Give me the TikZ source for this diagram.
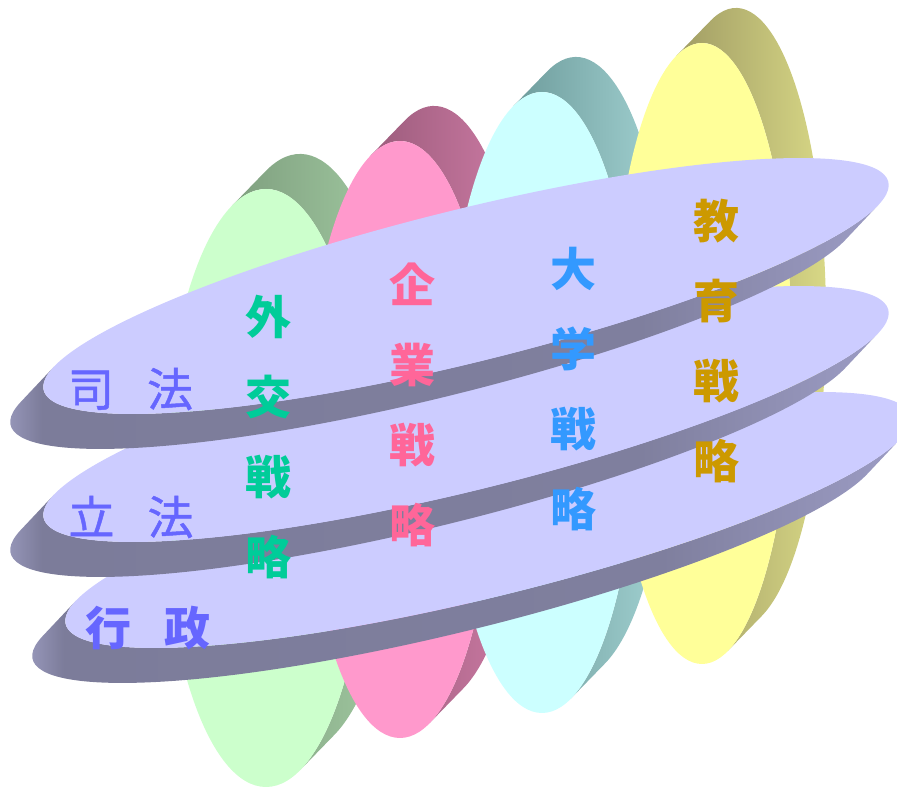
\documentclass[tikz,border=0pt]{standalone}
\usepackage{fontspec}
\newfontfamily\jpfont{Noto Sans CJK JP}
\newfontfamily\jpmid[FakeBold=1]{Noto Sans CJK JP}
\definecolor{lavTop}{HTML}{CCCCFF}
\definecolor{lavLight}{HTML}{B4B4DC}
\definecolor{lavDark}{HTML}{7C7C9A}
\definecolor{lavRight}{HTML}{9C9CC4}
\definecolor{greenFront}{HTML}{CCFFCC}
\definecolor{greenDark}{HTML}{7F9F7F}
\definecolor{greenSide}{HTML}{A6D0A6}
\definecolor{pinkFront}{HTML}{FF99CC}
\definecolor{pinkDark}{HTML}{9C5C7C}
\definecolor{pinkSide}{HTML}{D47FAA}
\definecolor{cyanFront}{HTML}{CCFFFF}
\definecolor{cyanDark}{HTML}{6E9C9C}
\definecolor{cyanSide}{HTML}{A8D8D8}
\definecolor{yellowFront}{HTML}{FFFF99}
\definecolor{yellowDark}{HTML}{A09C64}
\definecolor{yellowSide}{HTML}{DCDC88}
\definecolor{powerBlue}{HTML}{6666FF}
\definecolor{gaikoGreen}{HTML}{00CC99}
\definecolor{kigyoPink}{HTML}{FF6699}
\definecolor{daigakuBlue}{HTML}{3399FF}
\definecolor{kyoikuGold}{HTML}{CC9900}
\pgfdeclarehorizontalshading{lavside}{100bp}{color(0bp)=(lavLight); color(25bp)=(lavLight); color(29bp)=(lavDark); color(62bp)=(lavDark!90!lavRight); color(75bp)=(lavRight); color(100bp)=(lavRight)}
\begin{document}
\begin{tikzpicture}[x=1pt, y=1pt,
    power/.style={font=\jpmid\fontsize{46}{55}\selectfont, text=powerBlue, inner sep=0pt},
    branch/.style={font=\jpfont\bfseries\fontsize{46}{80}\selectfont, align=center, inner sep=0pt},
    plate/.style={shading=lavside}]
    \useasboundingbox (0,0) rectangle (897,787);
    \clip (0,0) rectangle (897,787);
    % Upright disks, back to front
    \begin{scope}[shift={(266,299)}]
        \shade[left color=greenDark, middle color=greenSide, right color=greenSide] (109.53:103 and 299) -- ++(34,35)
            arc[start angle=109.53, end angle=-70.47, x radius=103, y radius=299] -- ++(-34,-35)
            arc[start angle=-70.47, end angle=109.53, x radius=103, y radius=299] -- cycle;
        \fill[greenFront] (0,0) ellipse [x radius=103, y radius=299];
    \end{scope}
    \begin{scope}[shift={(400,347.5)}]
        \shade[left color=pinkDark, middle color=pinkSide, right color=pinkSide] (108.14:95 and 298.5) -- ++(34,35)
            arc[start angle=108.14, end angle=-71.86, x radius=95, y radius=298.5] -- ++(-34,-35)
            arc[start angle=-71.86, end angle=108.14, x radius=95, y radius=298.5] -- cycle;
        \fill[pinkFront] (0,0) ellipse [x radius=95, y radius=298.5];
    \end{scope}
    \begin{scope}[shift={(542,384.5)}]
        \shade[left color=cyanDark, middle color=cyanSide, right color=cyanSide] (107.65:96 and 310.5) -- ++(34,35)
            arc[start angle=107.65, end angle=-72.35, x radius=96, y radius=310.5] -- ++(-34,-35)
            arc[start angle=-72.35, end angle=107.65, x radius=96, y radius=310.5] -- cycle;
        \fill[cyanFront] (0,0) ellipse [x radius=96, y radius=310.5];
    \end{scope}
    \begin{scope}[shift={(702,433.5)}]
        \shade[left color=yellowDark, middle color=yellowSide, right color=yellowSide] (106.62:90 and 310.5) -- ++(34,35)
            arc[start angle=106.62, end angle=-73.38, x radius=90, y radius=310.5] -- ++(-34,-35)
            arc[start angle=-73.38, end angle=106.62, x radius=90, y radius=310.5] -- cycle;
        \fill[yellowFront] (0,0) ellipse [x radius=90, y radius=310.5];
    \end{scope}
    % Flat plates, bottom one first
    \begin{scope}[shift={(488,267)}, rotate=13.86]
        \shade[plate] (164.74:435 and 76.5) -- ++(-40.43,-26.07)
            arc[start angle=164.74, end angle=344.74, x radius=435, y radius=76.5] -- ++(40.43,26.07)
            arc[start angle=344.74, end angle=164.74, x radius=435, y radius=76.5] -- cycle;
        \fill[lavTop] (0,0) ellipse [x radius=435, y radius=76.5];
    \end{scope}
    \begin{scope}[shift={(466,373)}, rotate=13.86]
        \shade[plate] (164.74:435 and 76.5) -- ++(-40.43,-26.07)
            arc[start angle=164.74, end angle=344.74, x radius=435, y radius=76.5] -- ++(40.43,26.07)
            arc[start angle=344.74, end angle=164.74, x radius=435, y radius=76.5] -- cycle;
        \fill[lavTop] (0,0) ellipse [x radius=435, y radius=76.5];
    \end{scope}
    \begin{scope}[shift={(466,501)}, rotate=13.86]
        \shade[plate] (164.74:435 and 76.5) -- ++(-40.43,-26.07)
            arc[start angle=164.74, end angle=344.74, x radius=435, y radius=76.5] -- ++(40.43,26.07)
            arc[start angle=344.74, end angle=164.74, x radius=435, y radius=76.5] -- cycle;
        \fill[lavTop] (0,0) ellipse [x radius=435, y radius=76.5];
    \end{scope}
    % Labels
    \node[power] (shiho) at (130.5,398) {司\hspace{0.72em}法};
    \node[power] (rippo) at (131,270) {立\hspace{0.72em}法};
    \node[power, font=\jpfont\bfseries\fontsize{46}{55}\selectfont] (gyosei) at (148,159) {行\hspace{0.72em}政};
    \node[branch, text=gaikoGreen] (gaiko) at (268,350) {外\\交\\戦\\略};
    \node[branch, text=kigyoPink] (kigyo) at (412,382) {企\\業\\戦\\略};
    \node[branch, text=daigakuBlue] (daigaku) at (573,398) {大\\学\\戦\\略};
    \node[branch, text=kyoikuGold] (kyoiku) at (716,446) {教\\育\\戦\\略};
\end{tikzpicture}
\end{document}
